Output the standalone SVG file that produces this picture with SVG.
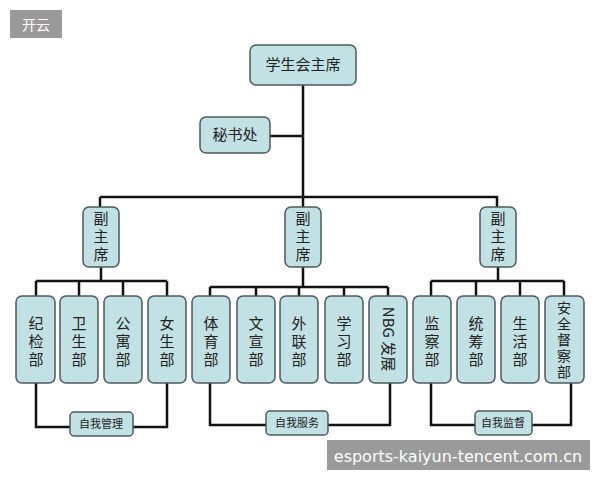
<svg xmlns="http://www.w3.org/2000/svg" width="600" height="480" viewBox="0 0 600 480">
<style>
.b{fill:#c2e1e4;stroke:#4d5a5c;stroke-width:1.5}
.t{font-family:"Noto Sans CJK SC",sans-serif;font-size:15px;fill:#222;text-anchor:middle}
.v{font-family:"Noto Sans CJK SC",sans-serif;font-size:15px;fill:#222;text-anchor:middle;writing-mode:vertical-rl;letter-spacing:3px}
.n{font-family:"Noto Sans CJK SC",sans-serif;font-size:14px;fill:#222;text-anchor:middle;writing-mode:vertical-rl;letter-spacing:2px}
.s{font-family:"Noto Sans CJK SC",sans-serif;font-size:11px;fill:#222;text-anchor:middle}
.c{fill:none;stroke:#111;stroke-width:2.5}
</style>
<rect width="600" height="480" fill="#fff"/>
<g id="connectors">
<path class="c" d="M303 85V207M270 136H303M100 197H497V207M100 197V207"/>
<path class="c" d="M101 267V281M36 281H167M36 281V296M79 281V296M123 281V296M167 281V296"/>
<path class="c" d="M303 267V287M210 287H388M210 287V296M256 287V296M299 287V296M344 287V296M388 287V296"/>
<path class="c" d="M498 267V281M431 281H564M431 281V296M476 281V296M520 281V296M564 281V296"/>
<path class="c" d="M36 383V427H70M133 427H167V383"/>
<path class="c" d="M210 383V425H266M328 425H390V383"/>
<path class="c" d="M431 383V425H475M532 425H571V383"/>
</g>
<g id="pres"><rect class="b" x="250" y="45" width="106" height="40" rx="6"/><text class="t" x="303" y="70">学生会主席</text></g>
<g id="sec"><rect class="b" x="200" y="117" width="70" height="36" rx="6"/><text class="t" x="235" y="140">秘书处</text></g>
<g id="v1"><rect class="b" x="83" y="207" width="36" height="60" rx="6"/><text class="v" x="101" y="238">副主席</text></g>
<g id="v2"><rect class="b" x="285" y="207" width="36" height="60" rx="6"/><text class="v" x="303" y="238">副主席</text></g>
<g id="v3"><rect class="b" x="480" y="207" width="36" height="60" rx="6"/><text class="v" x="498" y="238">副主席</text></g>
<g id="d1"><rect class="b" x="16" y="296" width="39" height="87" rx="6"/><text class="v" x="36" y="343">纪检部</text></g>
<g id="d2"><rect class="b" x="60" y="296" width="38" height="87" rx="6"/><text class="v" x="79" y="343">卫生部</text></g>
<g id="d3"><rect class="b" x="104" y="296" width="38" height="87" rx="6"/><text class="v" x="123" y="343">公寓部</text></g>
<g id="d4"><rect class="b" x="148" y="296" width="38" height="87" rx="6"/><text class="v" x="167" y="343">女生部</text></g>
<g id="d5"><rect class="b" x="192" y="296" width="38" height="87" rx="6"/><text class="v" x="211" y="343">体育部</text></g>
<g id="d6"><rect class="b" x="237" y="296" width="38" height="87" rx="6"/><text class="v" x="256" y="343">文宣部</text></g>
<g id="d7"><rect class="b" x="280" y="296" width="38" height="87" rx="6"/><text class="v" x="299" y="343">外联部</text></g>
<g id="d8"><rect class="b" x="325" y="296" width="38" height="87" rx="6"/><text class="v" x="344" y="343">学习部</text></g>
<g id="d9"><rect class="b" x="369" y="296" width="38" height="87" rx="6"/><text class="t" x="0" y="0" transform="translate(383 339) rotate(90)">NBG 发展</text></g>
<g id="d10"><rect class="b" x="413" y="296" width="38" height="87" rx="6"/><text class="v" x="432" y="343">监察部</text></g>
<g id="d11"><rect class="b" x="457" y="296" width="38" height="87" rx="6"/><text class="v" x="476" y="343">统筹部</text></g>
<g id="d12"><rect class="b" x="501" y="296" width="38" height="87" rx="6"/><text class="v" x="520" y="343">生活部</text></g>
<g id="d13"><rect class="b" x="545" y="296" width="39" height="87" rx="6"/><text class="n" x="564" y="341">安全督察部</text></g>
<g id="g1"><rect class="b" x="70" y="412" width="63" height="24" rx="4"/><text class="s" x="101" y="428">自我管理</text></g>
<g id="g2"><rect class="b" x="266" y="411" width="62" height="24" rx="4"/><text class="s" x="297" y="427">自我服务</text></g>
<g id="g3"><rect class="b" x="475" y="411" width="57" height="24" rx="4"/><text class="s" x="503" y="427">自我监督</text></g>
<rect x="10" y="10" width="52" height="28" fill="#9a9a9a"/>
<text x="36" y="30" font-family="Noto Sans CJK SC,sans-serif" font-size="14" fill="#fff" text-anchor="middle">开云</text>
<rect x="327" y="440" width="263" height="30" fill="#9a9a9a"/>
<text x="458" y="462" font-family="DejaVu Sans,sans-serif" font-size="16" fill="#fff" text-anchor="middle">esports-kaiyun-tencent.com.cn</text>
</svg>
